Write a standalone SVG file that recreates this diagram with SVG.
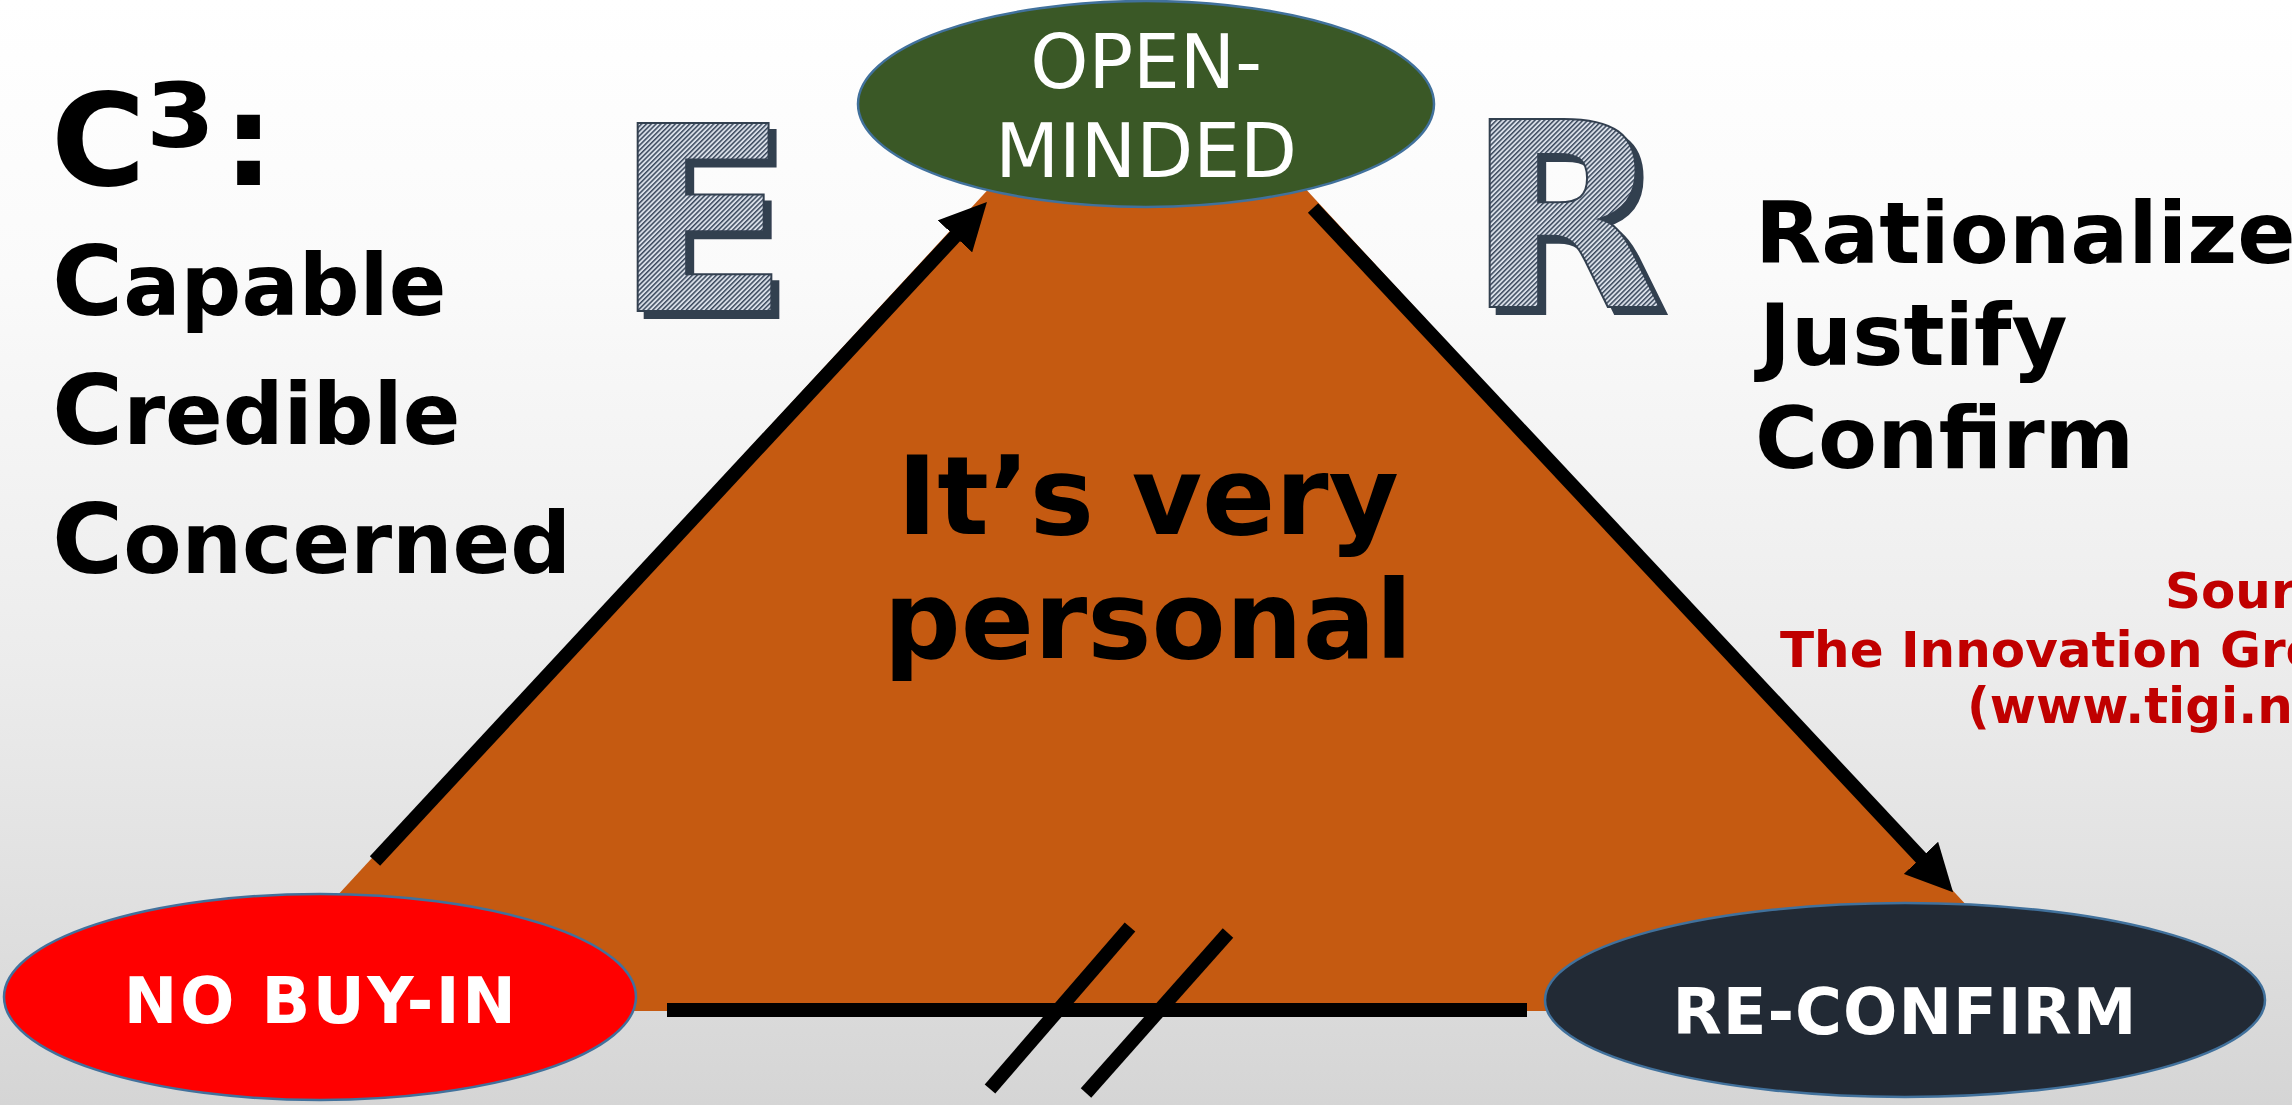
<svg xmlns="http://www.w3.org/2000/svg" width="2292" height="1105" viewBox="0 0 2292 1105">
<style>
.b{font-family:"DejaVu Sans",Verdana,sans-serif;font-weight:bold}
.r{font-family:"DejaVu Sans",Verdana,sans-serif;font-weight:normal}
.blk{fill:#000000}
.ell{stroke:#41719c;stroke-width:2.5}
.wt{fill:#ffffff}
.conn{stroke:#000000;stroke-width:14;fill:none;stroke-linecap:butt}
.src{fill:#c00000;font-size:50px}
.big{font-size:258px}
.hatch{fill:url(#hatch);stroke:#333f50;stroke-width:2;filter:url(#shadow)}
</style>
<defs>
<linearGradient id="bg" x1="0" y1="0" x2="0" y2="1">
<stop offset="0" stop-color="#ffffff"/>
<stop offset="0.25" stop-color="#fafafa"/>
<stop offset="0.6" stop-color="#ececec"/>
<stop offset="0.8" stop-color="#e1e1e1"/>
<stop offset="1" stop-color="#d5d5d5"/>
</linearGradient>
<pattern id="hatch" patternUnits="userSpaceOnUse" width="3.4" height="3.4" patternTransform="rotate(45)">
<rect width="3.4" height="3.4" fill="#d9dfe8"/>
<rect width="1.5" height="3.4" fill="#3c4a5e"/>
</pattern>
<filter id="shadow" x="-10%" y="-10%" width="130%" height="130%">
<feFlood flood-color="#333f50" result="c"/>
<feComposite in="c" in2="SourceAlpha" operator="in" result="s"/>
<feOffset in="s" dx="7" dy="7" result="o"/>
<feMerge><feMergeNode in="o"/><feMergeNode in="SourceGraphic"/></feMerge>
</filter>
<marker id="ah" markerUnits="userSpaceOnUse" markerWidth="47" markerHeight="47" viewBox="0 0 47 47" refX="3" refY="23.5" orient="auto">
<path d="M0,0 L47,23.5 L0,47 z" fill="#000000"/>
</marker>
</defs>
<rect x="0" y="0" width="2292" height="1105" fill="url(#bg)"/>

<g id="triangle">
<polygon points="1147,17 231,1011 2064,1011" fill="#c55a11"/>
</g>

<g id="letter-E">
<text class="b big hatch" x="614" y="311">E</text>
</g>
<g id="letter-R">
<text class="b big hatch" x="1466" y="307">R</text>
</g>

<g id="c3-list" class="b blk">
<text x="51" y="185" font-size="129">C<tspan font-size="160" dy="14">³</tspan><tspan dx="7" dy="-14">:</tspan></text>
<text x="52" y="315" font-size="85"><tspan font-size="97">C</tspan>apable</text>
<text x="52" y="444" font-size="85"><tspan font-size="97">C</tspan>redible</text>
<text x="52" y="573" font-size="85"><tspan font-size="97">C</tspan>oncerned</text>
</g>

<g id="right-list" class="b blk" font-size="86">
<text x="1755" y="263">Rationalize</text>
<text x="1759" y="365">Justify</text>
<text x="1755" y="468">Confirm</text>
</g>

<g id="source" class="b src">
<text x="2165" y="608">Sour</text>
<text x="1780" y="667">The Innovation Gro</text>
<text x="1967" y="723">(www.tigi.n</text>
</g>

<g id="center-text" class="b blk" font-size="108" text-anchor="middle">
<text x="1148" y="534">It’s very</text>
<text x="1148" y="658">personal</text>
</g>

<g id="connectors">
<line class="conn" x1="375" y1="861" x2="957" y2="234.2" marker-end="url(#ah)"/>
<line class="conn" x1="1313" y1="208" x2="1923" y2="860" marker-end="url(#ah)"/>
<line class="conn" x1="667" y1="1010" x2="1527" y2="1010"/>
<line class="conn" x1="1130" y1="927" x2="990" y2="1089"/>
<line class="conn" x1="1228" y1="933" x2="1086" y2="1093"/>
</g>

<g id="node-open-minded">
<ellipse class="ell" cx="1146" cy="104" rx="288" ry="103" fill="#3a5826"/>
<text class="r wt" x="1146" y="88" font-size="74" text-anchor="middle">OPEN-</text>
<text class="r wt" x="1146" y="177" font-size="74" text-anchor="middle">MINDED</text>
</g>

<g id="node-no-buy-in">
<ellipse class="ell" cx="320" cy="997" rx="316" ry="103" fill="#ff0000"/>
<text class="b wt" x="321" y="1023" font-size="64" letter-spacing="2.5" text-anchor="middle">NO BUY-IN</text>
</g>

<g id="node-re-confirm">
<ellipse class="ell" cx="1905" cy="1000" rx="360" ry="97" fill="#222a35"/>
<text class="b wt" x="1905" y="1034" font-size="64" letter-spacing="1" text-anchor="middle">RE-CONFIRM</text>
</g>
</svg>
